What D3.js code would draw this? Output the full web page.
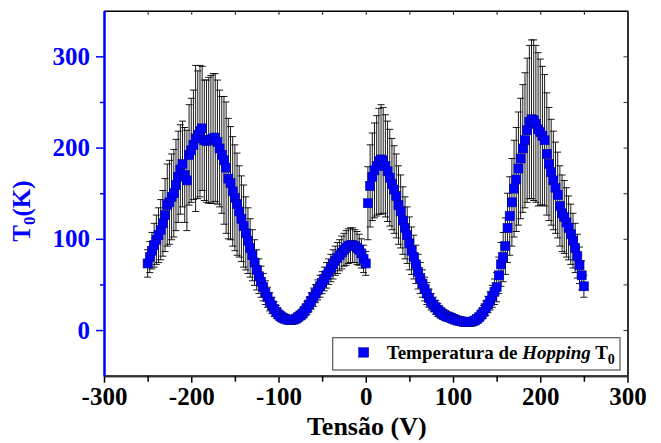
<!DOCTYPE html>
<meta charset="utf-8">
<script src="https://d3js.org/d3.v7.min.js"></script>
<style>
body { margin: 0; background: white; }
#chart svg { display: block; }
</style>
<div id="chart"></div>
<script>

// sweep voltage (V)
var tensao = [
  -250, -247.5, -245, -242.5, -240, -237.5, -235, -232.5, -230, -227.5,
  -225, -222.5, -220, -217.5, -215, -212.5, -210, -207.5, -205, -202.5,
  -200, -197.5, -195, -192.5, -190, -187.5, -185, -182.5, -180, -177.5,
  -175, -172.5, -170, -167.5, -165, -162.5, -160, -157.5, -155, -152.5,
  -150, -147.5, -145, -142.5, -140, -137.5, -135, -132.5, -130, -127.5,
  -125, -122.5, -120, -117.5, -115, -112.5, -110, -107.5, -105, -102.5,
  -100, -97.5, -95, -92.5, -90, -87.5, -85, -82.5, -80, -77.5,
  -75, -72.5, -70, -67.5, -65, -62.5, -60, -57.5, -55, -52.5,
  -50, -47.5, -45, -42.5, -40, -37.5, -35, -32.5, -30, -27.5,
  -25, -22.5, -20, -17.5, -15, -12.5, -10, -7.5, -5, -2.5,
  0, 2.5, 5, 7.5, 10, 12.5, 15, 17.5, 20, 22.5,
  25, 27.5, 30, 32.5, 35, 37.5, 40, 42.5, 45, 47.5,
  50, 52.5, 55, 57.5, 60, 62.5, 65, 67.5, 70, 72.5,
  75, 77.5, 80, 82.5, 85, 87.5, 90, 92.5, 95, 97.5,
  100, 102.5, 105, 107.5, 110, 112.5, 115, 117.5, 120, 122.5,
  125, 127.5, 130, 132.5, 135, 137.5, 140, 142.5, 145, 147.5,
  150, 152.5, 155, 157.5, 160, 162.5, 165, 167.5, 170, 172.5,
  175, 177.5, 180, 182.5, 185, 187.5, 190, 192.5, 195, 197.5,
  200, 202.5, 205, 207.5, 210, 212.5, 215, 217.5, 220, 222.5,
  225, 227.5, 230, 232.5, 235, 237.5, 240, 242.5, 245, 247.5,
  250
];

// hopping temperature T0 (K)
var t0 = [
  73, 80, 87, 93, 99, 104, 110, 117, 126, 137,
  140, 146, 150, 159, 168, 176, 182, 170, 164, 192,
  197, 203, 210, 214, 218, 221, 208, 207, 208, 209,
  210, 211, 206, 199, 192, 186, 178, 166, 161, 152,
  145, 138, 130, 122, 114, 106, 98, 90, 82, 74,
  66, 59, 53, 47, 41, 36, 31, 27, 23, 20,
  17, 15, 13.5, 12.5, 11.5, 11, 11, 11.5, 12.5, 14,
  16, 18, 21, 24, 28, 32, 36, 40, 44, 48,
  52, 56, 60, 64, 68, 72, 76, 79, 82, 85,
  88, 90, 92, 93, 93, 92, 90, 88, 84, 78,
  73, 139, 158, 168, 175, 180, 185, 187, 186, 180,
  174, 167, 160, 154, 147, 137, 130, 120, 112, 104,
  95, 87, 80, 72, 64, 57, 51, 45, 40, 35,
  31, 28, 25, 22, 20, 18, 16.5, 15, 14.5, 13.5,
  12.5, 11.5, 10.5, 10, 9.5, 9, 9, 9, 9, 9.5,
  10.5, 12, 14, 17, 20, 24, 28, 32, 37, 42,
  47, 60, 72, 80, 92, 112, 125, 140, 155, 165,
  177, 188, 199, 208, 219, 228, 231, 230, 226, 220,
  217, 213, 208, 193, 182, 173, 164, 156, 148, 136,
  128, 124, 118, 112, 105, 98, 90, 81, 71, 60,
  48
];

// error bar half-widths (K)
var erro = [
  15, 17, 20, 24, 27, 30, 33, 36, 40, 45,
  46, 47, 48, 50, 50, 49, 47, 52, 55, 55,
  57, 60, 80, 70, 72, 68, 66, 67, 69, 70,
  71, 70, 68, 64, 64, 70, 72, 66, 62, 60,
  58, 56, 50, 47, 45, 40, 36, 32, 28, 25,
  22, 19, 17, 15, 13, 11, 10, 9, 8, 7,
  6, 5.5, 5, 4.5, 4.5, 4, 4, 4, 4.5, 5,
  5, 6, 6.5, 7, 8, 9, 10, 10, 11, 12,
  12, 13, 14, 14, 15, 16, 16, 17, 17, 18,
  18, 19, 19, 19, 19, 18, 18, 17, 16, 15,
  13, 40, 45, 48, 52, 55, 58, 60, 58, 56,
  55, 53, 50, 48, 46, 43, 40, 37, 34, 31,
  29, 26, 24, 21, 19, 17, 15, 13, 12, 10,
  9, 8, 7.5, 7, 6.5, 6, 5.5, 5, 5, 4.5,
  4.5, 4, 4, 4, 4, 4, 4, 4, 4, 4,
  4, 4.5, 5, 6, 7, 8, 9, 10, 12, 14,
  16, 20, 24, 27, 31, 38, 43, 48, 53, 57,
  62, 66, 70, 74, 79, 84, 87, 88, 86, 84,
  80, 76, 72, 67, 62, 58, 54, 50, 47, 44,
  42, 40, 38, 35, 33, 30, 27, 24, 20, 16,
  12
];

var xMajor = [-300, -200, -100, 0, 100, 200, 300];
var xMinor = [-250, -150, -50, 50, 150, 250];
var yMajor = [0, 100, 200, 300];
var yMinor = [50, 150, 250];
var yAll = [-50, 0, 50, 100, 150, 200, 250, 300];

var W = 661, H = 443;
var margin = { top: 10.7, right: 33.5, bottom: 67.3, left: 104 };
var width = W - margin.left - margin.right,
    height = H - margin.top - margin.bottom;

var blue = "#0000ff";
var font = "'Liberation Serif', 'Times New Roman', serif";
var plain = function(d) { return String(d); };   // hyphen minus like the original

var data = tensao.map(function(v, i) { return { v: v, t: t0[i], e: erro[i] }; });

var svg = d3.select("#chart").append("svg")
    .attr("width", W)
    .attr("height", H)
    .append("g")
    .attr("transform", "translate(" + margin.left + "," + margin.top + ")");

var x = d3.scaleLinear().domain([-300, 300]).range([0, width]);
var y = d3.scaleLinear().domain([-50, 350]).range([height, 0]);

// error bars
var eb = svg.append("g").attr("stroke", "#000").attr("stroke-width", 0.9);
eb.selectAll(".ebar")
    .data(data)
    .enter().append("line")
    .attr("class", "ebar")
    .attr("x1", function(d) { return x(d.v); })
    .attr("x2", function(d) { return x(d.v); })
    .attr("y1", function(d) { return y(d.t + d.e); })
    .attr("y2", function(d) { return y(d.t - d.e); });
eb.selectAll(".capTop")
    .data(data)
    .enter().append("line")
    .attr("class", "capTop")
    .attr("x1", function(d) { return x(d.v) - 3.5; })
    .attr("x2", function(d) { return x(d.v) + 3.5; })
    .attr("y1", function(d) { return y(d.t + d.e); })
    .attr("y2", function(d) { return y(d.t + d.e); });
eb.selectAll(".capBot")
    .data(data)
    .enter().append("line")
    .attr("class", "capBot")
    .attr("x1", function(d) { return x(d.v) - 3.5; })
    .attr("x2", function(d) { return x(d.v) + 3.5; })
    .attr("y1", function(d) { return y(d.t - d.e); })
    .attr("y2", function(d) { return y(d.t - d.e); });

// markers
var ms = 9;
svg.append("g").selectAll(".pt")
    .data(data)
    .enter().append("rect")
    .attr("class", "pt")
    .attr("x", function(d) { return x(d.v) - ms / 2; })
    .attr("y", function(d) { return y(d.t) - ms / 2; })
    .attr("width", ms)
    .attr("height", ms)
    .attr("fill", blue)
    .attr("stroke", "#00009a")
    .attr("stroke-width", 0.6);

// bottom axis
var gx = svg.append("g").attr("transform", "translate(0," + height + ")");
gx.call(d3.axisBottom(x).tickValues(xMajor).tickSize(7).tickSizeOuter(0).tickPadding(5).tickFormat(plain));
gx.append("g").call(d3.axisBottom(x).tickValues(xMinor).tickSize(6).tickSizeOuter(0).tickFormat(""));
gx.selectAll("path").attr("stroke", "#333").attr("stroke-width", 2);
gx.selectAll("line").attr("stroke", "#000").attr("stroke-width", 1.5);
gx.selectAll("text").attr("font-family", font).attr("font-weight", "bold")
    .attr("font-size", 25).attr("fill", "#000");

// top axis (inward ticks)
var gt = svg.append("g");
gt.call(d3.axisBottom(x).tickValues(xMajor.concat(xMinor)).tickSize(4).tickSizeOuter(0).tickFormat(""));
gt.selectAll("path").attr("stroke", "#000").attr("stroke-width", 1.5);
gt.selectAll("line").attr("stroke", "#000").attr("stroke-width", 1);

// right axis (inward ticks)
var gr = svg.append("g").attr("transform", "translate(" + width + ",0)");
gr.call(d3.axisLeft(y).tickValues(yAll).tickSize(4).tickSizeOuter(0).tickFormat(""));
gr.selectAll("path").attr("stroke", "#333").attr("stroke-width", 2);
gr.selectAll("line").attr("stroke", "#333").attr("stroke-width", 1);

// left axis
var gy = svg.append("g");
gy.call(d3.axisLeft(y).tickValues(yMajor).tickSize(8).tickSizeOuter(0).tickPadding(6).tickFormat(plain));
gy.append("g").call(d3.axisLeft(y).tickValues(yMinor).tickSize(4).tickSizeOuter(0).tickFormat(""));
gy.selectAll("path").attr("stroke", blue).attr("stroke-width", 2);
gy.selectAll("line").attr("stroke", blue).attr("stroke-width", 1.5);
gy.selectAll("text").attr("font-family", font).attr("font-weight", "bold")
    .attr("font-size", 25).attr("fill", blue);

// axis titles
svg.append("text")
    .attr("x", x(0) + 1)
    .attr("y", height + 59)
    .attr("text-anchor", "middle")
    .attr("font-family", font).attr("font-weight", "bold").attr("font-size", 26)
    .text("Tensão (V)");

var yt = svg.append("text")
    .attr("transform", "translate(" + (30 - margin.left) + "," + (211 - margin.top) + ") rotate(-90)")
    .attr("text-anchor", "middle")
    .attr("font-family", font).attr("font-weight", "bold").attr("font-size", 25)
    .attr("fill", blue);
yt.append("tspan").text("T");
yt.append("tspan").attr("font-size", 17).attr("dy", 5).text("0");
yt.append("tspan").attr("dy", -5).text("(K)");

// legend
var lg = svg.append("g").attr("transform", "translate(" + (332.7 - margin.left) + "," + (337.7 - margin.top) + ")");
lg.append("rect")
    .attr("width", 287.3).attr("height", 32.3)
    .attr("fill", "white").attr("stroke", "#555").attr("stroke-width", 1.2);
lg.append("rect")
    .attr("x", 26).attr("y", 10).attr("width", 10).attr("height", 9.5)
    .attr("fill", blue).attr("stroke", "#00009a").attr("stroke-width", 0.5);
var lt = lg.append("text")
    .attr("x", 54).attr("y", 21)
    .attr("font-family", font).attr("font-weight", "bold").attr("font-size", 19);
lt.append("tspan").text("Temperatura de ");
lt.append("tspan").attr("font-style", "italic").text("Hopping");
lt.append("tspan").text(" T");
lt.append("tspan").attr("font-size", 14).attr("dy", 5).text("0");
</script>
